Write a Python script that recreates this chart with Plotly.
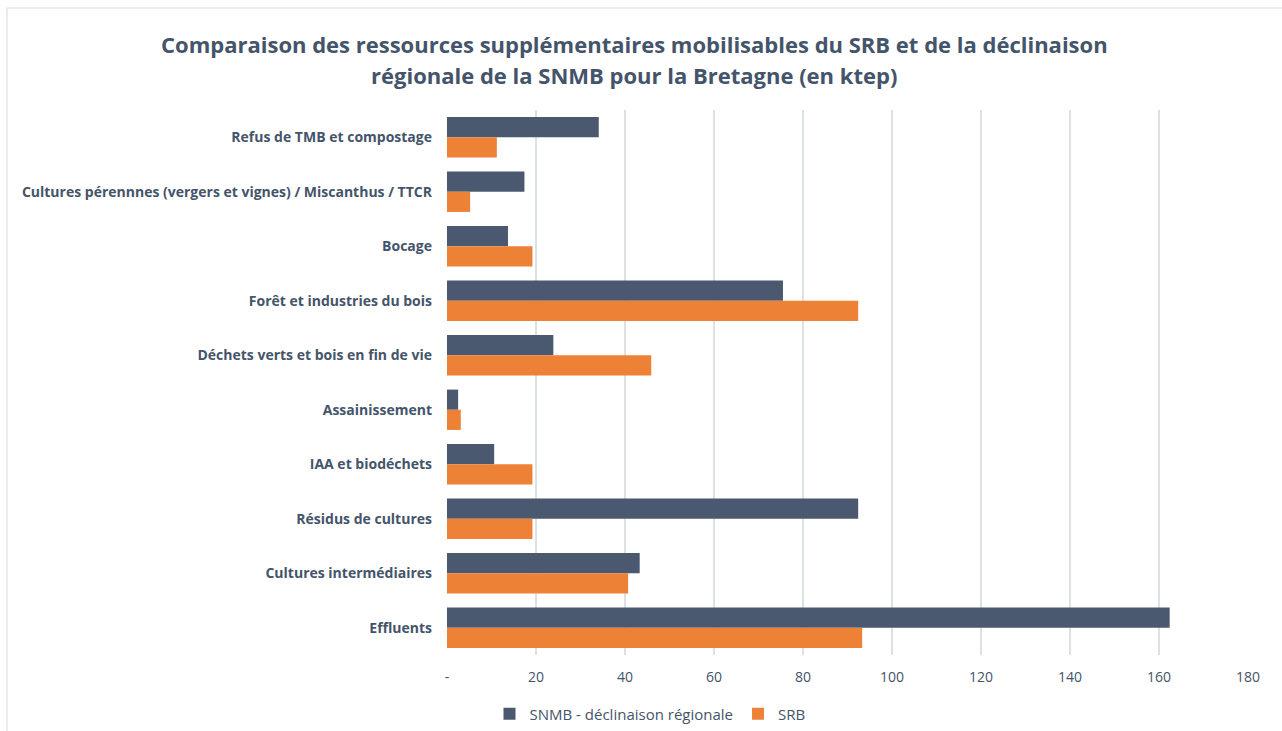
import plotly.graph_objects as go

categories = [
    "Refus de TMB et compostage",
    "Cultures pérennnes (vergers et vignes) / Miscanthus / TTCR",
    "Bocage",
    "Forêt et industries du bois",
    "Déchets verts et bois en fin de vie",
    "Assainissement",
    "IAA et biodéchets",
    "Résidus de cultures",
    "Cultures intermédiaires",
    "Effluents",
]
snmb_values = [34.1, 17.4, 13.7, 75.5, 23.9, 2.5, 10.6, 92.4, 43.3, 162.4]
srb_values = [11.2, 5.2, 19.2, 92.4, 45.9, 3.1, 19.2, 19.2, 40.7, 93.3]

tick_values = [0, 20, 40, 60, 80, 100, 120, 140, 160, 180]
tick_labels = ["-", "20", "40", "60", "80", "100", "120", "140", "160", "180"]

title_lines = [
    "Comparaison des ressources supplémentaires mobilisables du SRB et de la déclinaison",
    "régionale de la SNMB pour la Bretagne (en ktep)",
]

TEXT = "#44546A"
FONT = "Open Sans"

fig = go.Figure()
fig.add_trace(go.Bar(
    y=categories, x=snmb_values, orientation="h",
    name="SNMB - déclinaison régionale",
    marker=dict(color="#4A5970", line=dict(width=0)),
))
fig.add_trace(go.Bar(
    y=categories, x=srb_values, orientation="h",
    name="SRB",
    marker=dict(color="#ED8236", line=dict(width=0)),
))

W, H = 1282, 731
L, R, T, B = 447, 34, 110, 76
pw, ph = W - L - R, H - T - B

def px_x(p):
    return (p - L) / pw

def px_y(p):
    return (H - B - p) / ph

# two-line title, each line placed on its own
annotations = [
    dict(
        text=f"<b>{line}</b>", xref="paper", yref="paper",
        x=px_x(634), y=px_y(yy), xanchor="center", yanchor="middle",
        showarrow=False, font=dict(family=FONT, size=22, color=TEXT),
    )
    for line, yy in zip(title_lines, [44, 75])
]

fig.update_layout(
    width=W, height=H,
    margin=dict(l=L, r=R, t=T, b=B, autoexpand=False),
    paper_bgcolor="white", plot_bgcolor="white",
    barmode="group", bargap=0.26, bargroupgap=0,
    font=dict(family=FONT, color=TEXT, size=14),
    annotations=annotations,
    xaxis=dict(
        range=[0, 180], tickvals=tick_values, ticktext=tick_labels,
        showgrid=True, gridcolor="#DCE1E6", gridwidth=2,
        zeroline=False, showline=False, ticks="",
        tickfont=dict(family=FONT, size=14, color=TEXT),
        ticklabelstandoff=12, automargin=False,
    ),
    yaxis=dict(
        categoryorder="array", categoryarray=categories, autorange="reversed",
        showgrid=False, zeroline=False, showline=False, ticks="",
        tickfont=dict(family=FONT, size=14, color=TEXT, weight="bold"),
        ticklabelstandoff=14, automargin=False,
    ),
    legend=dict(
        orientation="h", x=px_x(650), xanchor="center", y=px_y(714), yanchor="middle",
        font=dict(family=FONT, size=15, color=TEXT), traceorder="normal",
        itemwidth=30,
    ),
    shapes=[dict(
        type="rect", xref="paper", yref="paper",
        x0=px_x(7), x1=px_x(1290), y0=px_y(740), y1=px_y(8),
        line=dict(color="#D9D9D9", width=1), fillcolor="rgba(0,0,0,0)", layer="below",
    )],
)

fig.write_html("out.html")
